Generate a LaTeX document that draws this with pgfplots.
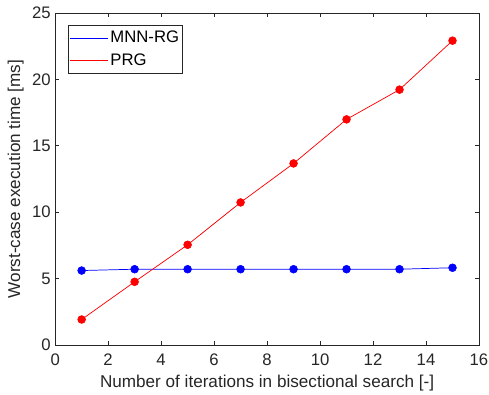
\documentclass[border=0pt]{standalone}
\usepackage{pgfplots}
\pgfplotsset{compat=1.18}
\usetikzlibrary{calc}
\usepackage{fontspec}
\setmainfont{Liberation Sans}
\definecolor{axgray}{rgb}{0.15,0.15,0.15}
\begin{document}
\begin{tikzpicture}
\begin{axis}[
  name=ax,
  scale only axis,
  width=292pt, height=228.6pt,
  xmin=0, xmax=16, ymin=0, ymax=25,
  xtick={0,2,...,16}, ytick={0,5,...,25},
  tick align=inside,
  major tick length=2.8pt,
  axis line style={axgray, line width=0.4pt},
  tick style={axgray, line width=0.4pt},
  every tick label/.append style={text=axgray, font=\fontsize{11.5}{13}\selectfont},
  xticklabel style={yshift=-2.5pt},
  yticklabel style={xshift=0.5pt},
  label style={text=axgray, font=\fontsize{11.8}{14}\selectfont},
  /pgf/number format/assume math mode=true,
  xlabel={Number of iterations in bisectional search [-]},
  ylabel={Worst-case execution time [ms]},
  xlabel style={yshift=0pt},
  ylabel style={yshift=-1pt},
  legend style={at={(9pt,220.3pt)}, anchor=north west, draw=axgray, line width=0.4pt,
    font=\fontsize{11.5}{13}\selectfont, inner sep=1pt, row sep=0pt,
    nodes={inner xsep=1.3pt, inner ysep=3pt}, cells={anchor=west}},
  legend image code/.code={\draw[#1, line width=0.6pt] (0pt,0pt) -- (26pt,0pt);},
]
\addplot[color={rgb,1:red,0;green,0;blue,1}, line width=0.5pt, mark=none] coordinates {
(1,5.60) (3,5.70) (5,5.70) (7,5.70) (9,5.70) (11,5.70) (13,5.70) (15,5.81)};
\addlegendentry{MNN-RG}
\addplot[red, line width=0.5pt, mark=none] coordinates {
(1,1.91) (3,4.75) (5,7.54) (7,10.73) (9,13.67) (11,16.99) (13,19.23) (15,22.92)};
\addlegendentry{PRG}
\addplot[blue, only marks, mark=*, mark size=2.7pt, forget plot] coordinates {
(1,5.60) (3,5.70) (5,5.70) (7,5.70) (9,5.70) (11,5.70) (13,5.70) (15,5.81)};
\addplot[red, only marks, mark=*, mark size=2.7pt, forget plot] coordinates {
(1,1.91) (3,4.75) (5,7.54) (7,10.73) (9,13.67) (11,16.99) (13,19.23) (15,22.92)};
\end{axis}
\pgfresetboundingbox
\path (ax.south west) ++(-38pt,-34.5pt) rectangle ($(ax.north east)+(6.9pt,9pt)$);
\end{tikzpicture}
\end{document}
